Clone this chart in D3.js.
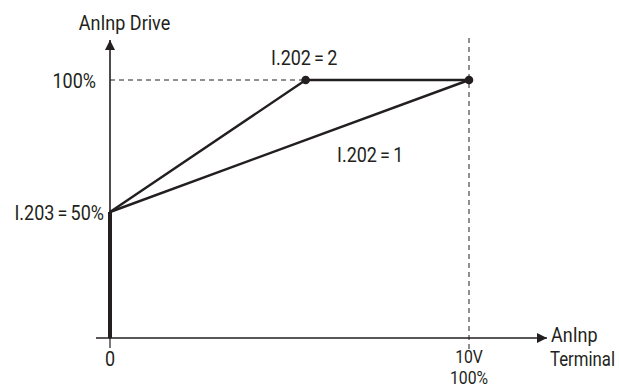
<!DOCTYPE html>
<html>
<head>
<meta charset="utf-8">
<script src="https://cdn.jsdelivr.net/npm/d3@7"></script>
<style>
  html, body { margin: 0; padding: 0; background: #fff; }
  svg text { font-family: Roboto, "Liberation Sans", sans-serif; fill: #231f20; }
</style>
</head>
<body>
<svg id="chart" width="619" height="388"></svg>
<script>
// Analog input scaling: terminal voltage (V) -> drive value (%)
const offsetPct = [50];                 // I.203 offset
const curveGain1 = [[0, 50], [10, 100]];          // I.202 = 1
const curveGain2 = [[0, 50], [5.45, 100], [10, 100]]; // I.202 = 2
const markerPoints = [[5.45, 100], [10, 100]];
const xTickLabels = [{ v: 0, lines: ["0"] }, { v: 10, lines: ["10V", "100%"] }];
const yTickLabels = [{ v: 100, text: "100%" }, { v: 50, text: "I.203=50%" }];

const svg = d3.select("#chart");
const ink = "#231f20";

const x = d3.scaleLinear().domain([0, 10]).range([110, 469]);
const y = d3.scaleLinear().domain([0, 100]).range([344, 80]);
const axisY = 338;

// condensed label: horizontally squeezed text; "=" gets extra room on both sides
function label(px, py, str, anchor, size, sx) {
  const t = svg.append("text")
    .attr("transform", `translate(${px},${py}) scale(${sx || 0.9},1)`)
    .attr("text-anchor", anchor || "start")
    .attr("font-size", size || 20);
  const parts = str.split("=");
  if (parts.length === 2) {
    t.append("tspan").text(parts[0]);
    t.append("tspan").attr("dx", 3.5).text("=");
    t.append("tspan").attr("dx", 3.5).text(parts[1]);
  } else {
    t.text(str);
  }
  return t;
}

// arrow head
svg.append("defs").append("marker")
  .attr("id", "arrow").attr("viewBox", "0 0 10 10")
  .attr("refX", 10).attr("refY", 5)
  .attr("markerWidth", 11).attr("markerHeight", 10)
  .attr("markerUnits", "userSpaceOnUse")
  .attr("orient", "auto")
  .append("path").attr("d", "M0,0 L10,5 L0,10 Z").attr("fill", ink);

// axes
svg.append("line")
  .attr("x1", x(0)).attr("y1", axisY + 1)
  .attr("x2", x(0)).attr("y2", 40)
  .attr("stroke", ink).attr("stroke-width", 1.6)
  .attr("marker-end", "url(#arrow)");
svg.append("line")
  .attr("x1", 96).attr("y1", axisY)
  .attr("x2", 547).attr("y2", axisY)
  .attr("stroke", ink).attr("stroke-width", 1.6)
  .attr("marker-end", "url(#arrow)");

// small tick below origin
svg.append("line")
  .attr("x1", x(0)).attr("x2", x(0))
  .attr("y1", axisY).attr("y2", axisY + 10)
  .attr("stroke", ink).attr("stroke-width", 1.2);

// guide lines
svg.append("line")
  .attr("x1", x(0)).attr("x2", x(5.45))
  .attr("y1", y(100)).attr("y2", y(100))
  .attr("stroke", ink).attr("stroke-width", 1)
  .attr("stroke-dasharray", "5,4");
svg.append("line")
  .attr("x1", x(10)).attr("x2", x(10))
  .attr("y1", 38).attr("y2", axisY + 12)
  .attr("stroke", ink).attr("stroke-width", 1)
  .attr("stroke-dasharray", "5,4");

// offset segment (thick) from axis up to the offset level
svg.append("line")
  .attr("x1", x(0)).attr("x2", x(0))
  .attr("y1", axisY).attr("y2", y(offsetPct[0]))
  .attr("stroke", ink).attr("stroke-width", 4);

const line = d3.line().x(d => x(d[0])).y(d => y(d[1]));
[curveGain1, curveGain2].forEach(c => {
  svg.append("path").attr("d", line(c))
    .attr("fill", "none").attr("stroke", ink)
    .attr("stroke-width", 2.4).attr("stroke-linejoin", "round");
});

svg.selectAll(".pt").data(markerPoints).enter().append("circle")
  .attr("cx", d => x(d[0])).attr("cy", d => y(d[1]))
  .attr("r", 4.3).attr("fill", ink);

// labels
label(124.5, 30, "AnInp Drive", "middle");

yTickLabels.forEach(d => {
  label(d.v === 100 ? 96 : 104, y(d.v) + 8, d.text, "end");
});

label(x(xTickLabels[0].v), 366, xTickLabels[0].lines[0], "middle");
xTickLabels[1].lines.forEach((s, i) =>
  label(x(xTickLabels[1].v), 363 + i * 20.5, s, "middle", 17.5));

label(551, 342, "AnInp");
label(550, 366, "Terminal", "start", 20, 0.84);

label(271, 65, "I.202=2");
label(337, 162, "I.202=1");
</script>
</body>
</html>
